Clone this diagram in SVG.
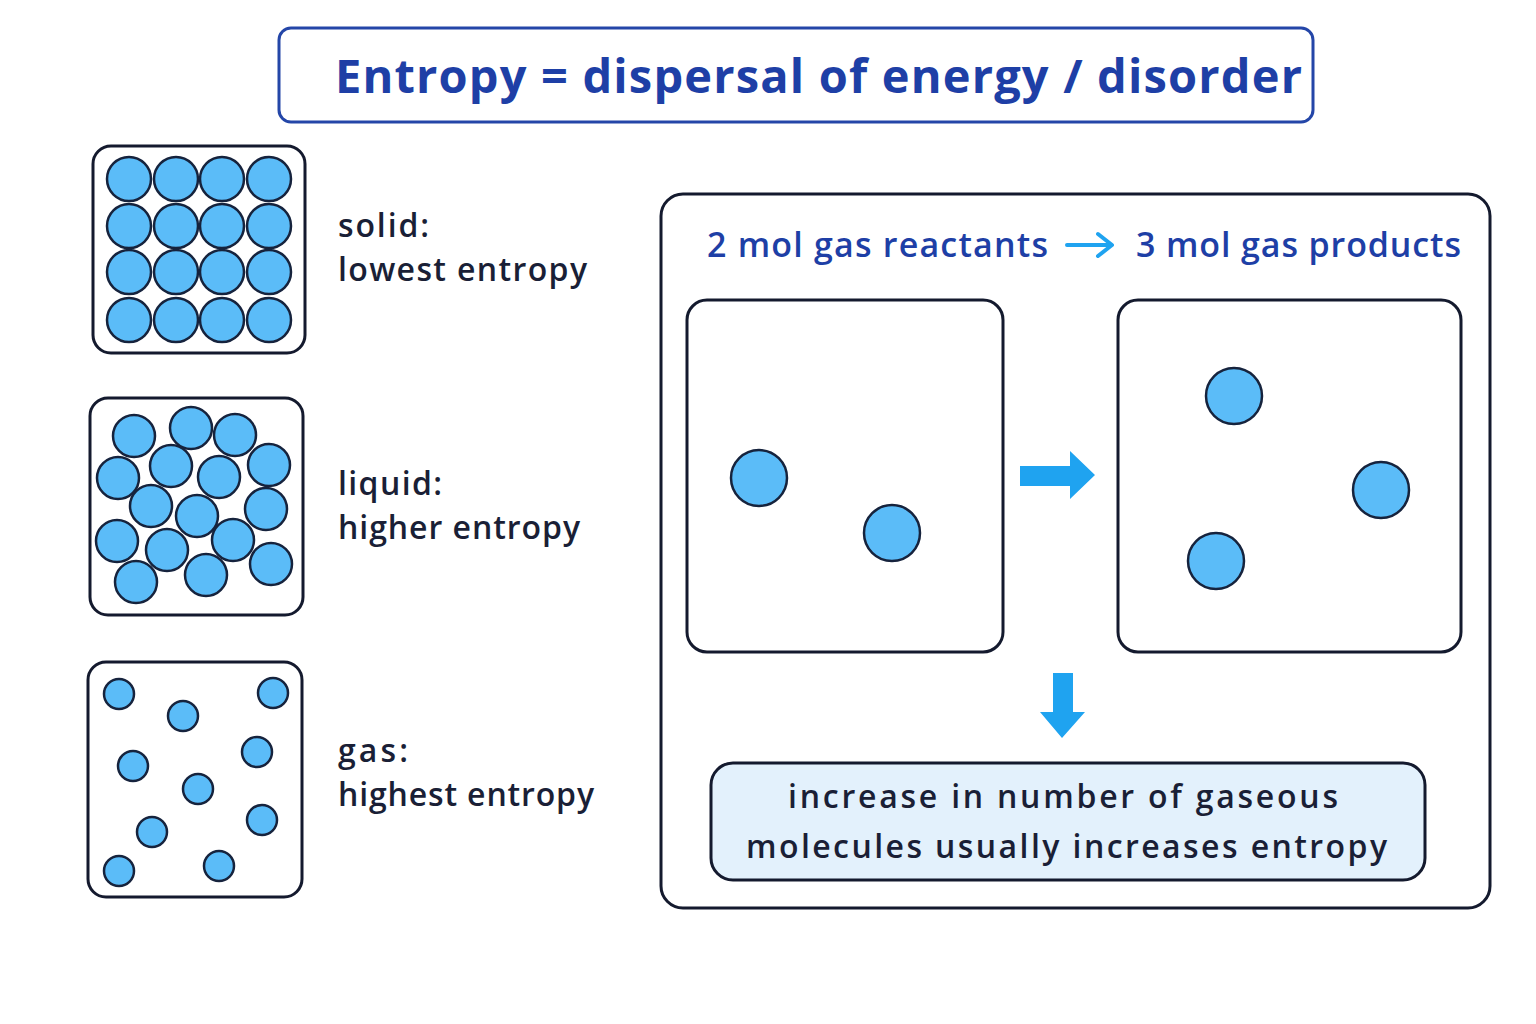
<svg xmlns="http://www.w3.org/2000/svg" width="1536" height="1024" viewBox="0 0 1536 1024">
<style>
.box{fill:#fff;stroke:#141a2e;stroke-width:3}
.m{fill:#5bbcf8;stroke:#16233d;stroke-width:2.5}
.lbl{font-family:"Open Sans","Liberation Sans",sans-serif;font-size:32px;font-weight:600;fill:#1a1f36}
.hdr{font-family:"Open Sans","Liberation Sans",sans-serif;font-size:34px;font-weight:600;fill:#1e3fa6}
</style>
<rect width="1536" height="1024" fill="#fff"/>
<g id="title"><rect x="279" y="28" width="1034" height="94" rx="12" fill="#fff" stroke="#2446a8" stroke-width="3"/>
<text x="335" y="93" textLength="967" lengthAdjust="spacing" font-family="Open Sans,Liberation Sans,sans-serif" font-size="47" font-weight="700" fill="#1e3fa6">Entropy = dispersal of energy / disorder</text></g>
<g id="solid"><rect class="box" x="93" y="146" width="212" height="207" rx="18"/>
<g class="m">
<circle cx="129" cy="179" r="22"/><circle cx="176" cy="179" r="22"/><circle cx="222" cy="179" r="22"/><circle cx="269" cy="179" r="22"/>
<circle cx="129" cy="226" r="22"/><circle cx="176" cy="226" r="22"/><circle cx="222" cy="226" r="22"/><circle cx="269" cy="226" r="22"/>
<circle cx="129" cy="272" r="22"/><circle cx="176" cy="272" r="22"/><circle cx="222" cy="272" r="22"/><circle cx="269" cy="272" r="22"/>
<circle cx="129" cy="320" r="22"/><circle cx="176" cy="320" r="22"/><circle cx="222" cy="320" r="22"/><circle cx="269" cy="320" r="22"/></g>
<text class="lbl" x="338" y="237" textLength="91" lengthAdjust="spacing">solid:</text><text class="lbl" x="338" y="281" textLength="249" lengthAdjust="spacing">lowest entropy</text></g>
<g id="liquid"><rect class="box" x="90" y="398" width="213" height="217" rx="18"/>
<g class="m">
<circle cx="134" cy="436" r="21"/><circle cx="191" cy="428" r="21"/><circle cx="235" cy="435" r="21"/><circle cx="118" cy="478" r="21"/><circle cx="171" cy="466" r="21"/><circle cx="219" cy="477" r="21"/><circle cx="269" cy="465" r="21"/><circle cx="151" cy="506" r="21"/><circle cx="197" cy="516" r="21"/><circle cx="266" cy="509" r="21"/><circle cx="117" cy="541" r="21"/><circle cx="167" cy="550" r="21"/><circle cx="233" cy="540" r="21"/><circle cx="136" cy="582" r="21"/><circle cx="206" cy="575" r="21"/><circle cx="271" cy="564" r="21"/></g>
<text class="lbl" x="338" y="495" textLength="104" lengthAdjust="spacing">liquid:</text><text class="lbl" x="338" y="539" textLength="242" lengthAdjust="spacing">higher entropy</text></g>
<g id="gas"><rect class="box" x="88" y="662" width="214" height="235" rx="18"/>
<g class="m">
<circle cx="119" cy="694" r="15"/><circle cx="273" cy="693" r="15"/><circle cx="183" cy="716" r="15"/><circle cx="133" cy="766" r="15"/><circle cx="257" cy="752" r="15"/><circle cx="198" cy="789" r="15"/><circle cx="152" cy="832" r="15"/><circle cx="262" cy="820" r="15"/><circle cx="119" cy="871" r="15"/><circle cx="219" cy="866" r="15"/></g>
<text class="lbl" x="338" y="762" textLength="70" lengthAdjust="spacing">gas:</text><text class="lbl" x="338" y="806" textLength="256" lengthAdjust="spacing">highest entropy</text></g>
<g id="reaction"><rect class="box" x="661" y="194" width="829" height="714" rx="22"/>
<text class="hdr" x="707" y="257" textLength="341" lengthAdjust="spacing">2 mol gas reactants</text>
<text class="hdr" x="1136" y="257" textLength="325" lengthAdjust="spacing">3 mol gas products</text></g>
<g id="reactants"><rect class="box" x="687" y="300" width="316" height="352" rx="20"/>
<circle class="m" cx="759" cy="478" r="28"/><circle class="m" cx="892" cy="533" r="28"/></g>
<g id="products"><rect class="box" x="1118" y="300" width="343" height="352" rx="20"/>
<circle class="m" cx="1234" cy="396" r="28"/><circle class="m" cx="1381" cy="490" r="28"/><circle class="m" cx="1216" cy="561" r="28"/></g>
<g id="conclusion"><rect x="711" y="763" width="714" height="117" rx="22" fill="#e3f1fc" stroke="#141a2e" stroke-width="3"/>
<text class="lbl" x="788" y="808" font-size="35" textLength="550" lengthAdjust="spacing">increase in number of gaseous</text>
<text class="lbl" x="746" y="858" font-size="35" textLength="641" lengthAdjust="spacing">molecules usually increases entropy</text></g>
<g id="connectors" fill="#1fa3f0">
<path d="M1067 245H1110M1098 234L1112 245L1098 256" fill="none" stroke="#1fa3f0" stroke-width="4" stroke-linecap="round" stroke-linejoin="round"/>
<path d="M1020 466H1070V451L1095 475L1070 499V486H1020Z"/>
<path d="M1053 673H1073V712H1085L1062 738L1040 712H1053Z"/>
</g>
</svg>
